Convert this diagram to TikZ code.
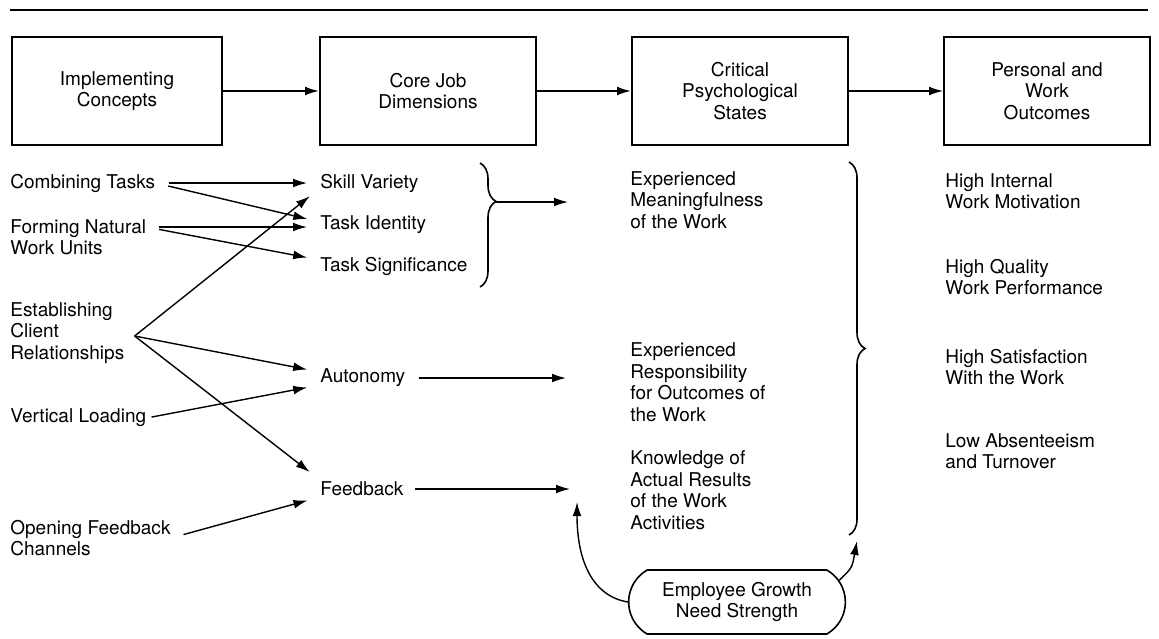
\documentclass[tikz,border=0pt]{standalone}
\usepackage{fontspec}
\setmainfont{TeX Gyre Heros}
\usetikzlibrary{arrows.meta,calc,decorations.pathreplacing,shapes.misc}

\begin{document}
\begin{tikzpicture}[x=0.5pt,y=-0.5pt,
  txt/.style={font=\fontsize{9.5}{10.75}\selectfont},
  lbl/.style={txt, align=left, anchor=west, inner sep=0pt},
  headbox/.style={draw, line width=0.9pt, txt, align=center, minimum height=54pt, inner sep=0pt},
  link/.style={line width=0.7pt, -{Latex[length=7pt,width=4.4pt]}},
  gap/.style={shorten <=6.5pt, shorten >=6.5pt},
  bracket/.style={decorate, decoration={brace, amplitude=8pt}, line width=0.8pt}
]
\useasboundingbox (0,0) rectangle (1159,638);

% rule across the top
\draw[line width=1pt] (10,10) -- (1148,10);

% column headings
\node[headbox, minimum width=105pt] (b1) at (117,91) {Implementing\\Concepts};
\node[headbox, minimum width=108pt] (b2) at (428,91) {Core Job\\Dimensions};
\node[headbox, minimum width=108pt] (b3) at (740,91) {Critical\\Psychological\\States};
\node[headbox, minimum width=103pt] (b4) at (1047,91) {Personal and\\Work\\Outcomes};

\draw[link, line width=1pt] (b1) -- (b2);
\draw[link, line width=1pt] (b2) -- (b3);
\draw[link, line width=0.75pt] (b3) -- (b4);

% implementing concepts
\node[lbl] (ct) at (10,183) {Combining Tasks};
\node[lbl] (fn) at (10,237) {Forming Natural\\Work Units};
\node[lbl] (ec) at (10,333) {Establishing\\Client\\Relationships};
\node[lbl] (vl) at (10,418) {Vertical Loading};
\node[lbl] (of) at (10,538) {Opening Feedback\\Channels};

% core job dimensions
\node[lbl] (sv) at (320,183) {Skill Variety};
\node[lbl] (ti) at (320,225) {Task Identity};
\node[lbl] (ts) at (320,266) {Task Significance};
\node[lbl] (au) at (320,378) {Autonomy};
\node[lbl] (fb) at (320,489) {Feedback};

% critical psychological states
\node[lbl] (em) at (630,200) {Experienced\\Meaningfulness\\of the Work};
\node[lbl] (er) at (630,382) {Experienced\\Responsibility\\for Outcomes of\\the Work};
\node[lbl] (kr) at (630,490) {Knowledge of\\Actual Results\\of the Work\\Activities};

% outcomes
\node[lbl] (hi) at (945,191) {High Internal\\Work Motivation};
\node[lbl] (hq) at (945,277) {High Quality\\Work Performance};
\node[lbl] (hs) at (945,367) {High Satisfaction\\With the Work};
\node[lbl] (la) at (945,451) {Low Absenteeism\\and Turnover};

% moderator
\node[draw, rounded rectangle, rounded rectangle arc length=120, line width=0.8pt,
      minimum width=115pt, minimum height=32pt, txt, align=center] (eg) at (737,602)
      {Employee Growth\\Need Strength};

% concepts -> dimensions
\draw[link, gap] (ct.east) -- (sv.west);
\draw[link, gap] (ct.east) -- ($(ti.west)+(0,-3)$);
\draw[link, gap] ($(fn.east)+(0,-10)$) -- ($(ti.west)+(0,2)$);
\draw[link, gap] ($(fn.east)+(0,-10)$) -- ($(ts.west)+(0,-6)$);

\coordinate (J) at ($(ec.east)+(10,3)$);
\draw[link, shorten >=6.5pt] (J) -- ($(sv.west)+(0,5)$);
\draw[link, shorten >=6.5pt] (J) -- ($(au.west)+(0,-6)$);
\draw[link, shorten >=6.5pt] (J) -- ($(fb.west)+(0,-9)$);
\draw[link, shorten <=2.5pt, shorten >=6.5pt] (vl.east) -- ($(au.west)+(0,7)$);
\draw[link, gap] (of.east) -- ($(fb.west)+(0,8)$);

% dimensions -> states
\draw[bracket, decoration={aspect=0.31}] (480,163) -- (480,287);
\coordinate (t1) at (496,202);
\draw[link, shorten >=31pt] (t1) -- (t1 -| em.west);
\draw[link, shorten <=6.5pt, shorten >=32pt] (au.east) -- (au.east -| er.west);
\draw[link, shorten <=5.5pt, shorten >=30pt] (fb.east) -- (fb.east -| kr.west);

% states grouped
\draw[bracket] (849,162) -- (849,535);

% moderating influence
\coordinate (kin) at (577,502);
\draw[link] (eg.west) .. controls (592,596) and (577,560) .. (kin);
\coordinate (bin) at (857,541);
\draw[link] (eg.12) .. controls (852,568) .. (bin);
\end{tikzpicture}
\end{document}
